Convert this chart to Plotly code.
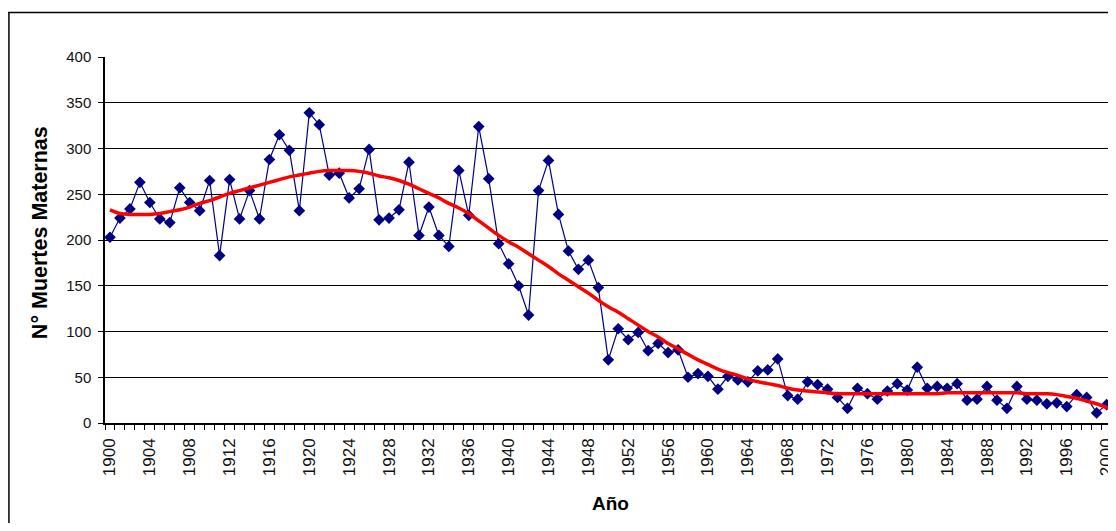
import plotly.graph_objects as go

years = list(range(1900, 2002))
deaths = [203, 224, 234, 263, 241, 223, 219, 257, 241, 232,
          265, 183, 266, 223, 254, 223, 288, 315, 298, 232,
          339, 326, 271, 273, 246, 256, 299, 222, 224, 233,
          285, 205, 236, 205, 193, 276, 227, 324, 267, 196,
          174, 150, 118, 254, 287, 228, 188, 168, 178, 148,
          69, 103, 91, 99, 79, 87, 77, 80, 50, 54,
          51, 37, 51, 47, 45, 57, 58, 70, 30, 26,
          45, 42, 37, 28, 16, 38, 32, 26, 35, 43,
          36, 61, 38, 40, 38, 43, 25, 26, 40, 25,
          16, 40, 26, 25, 21, 22, 18, 31, 28, 11,
          20, 45]
trend = [233, 229, 228, 228, 228, 229, 231, 233, 236, 240,
         243, 247, 251, 254, 257, 260, 263, 266, 269, 271,
         273, 275, 276, 276, 276, 275, 273, 270, 268, 265,
         261, 256, 251, 246, 240, 235, 229, 221, 213, 205,
         198, 192, 185, 178, 171, 163, 156, 149, 142, 134,
         127, 121, 114, 107, 100, 94, 87, 81, 75, 69,
         64, 59, 55, 52, 48, 45, 43, 41, 38, 36,
         35, 34, 33, 32, 32, 32, 32, 32, 32, 32,
         32, 32, 32, 32, 33, 33, 33, 33, 33, 33,
         33, 33, 32, 32, 32, 31, 29, 27, 24, 21,
         17, 14]
label_years = list(range(1900, 2001, 4))
y_ticks = list(range(0, 401, 50))

# page is offset by the 8px body margin; work in page pixels and convert
OFF = 8
W, H = 1116 - OFF, 531 - 2 * OFF
L, T = 105 - OFF, 57 - OFF
PLOT_BOTTOM = 423 - OFF
R = 0
B = H - PLOT_BOTTOM
pw = W - L - R
ph = H - T - B

def px(x_page):
    return (x_page - OFF - L) / pw

def py(y_page):
    return (PLOT_BOTTOM - (y_page - OFF)) / ph

x0 = 1899.5
x1 = x0 + (1116 - 105.3) / 9.983

fig = go.Figure()
fig.add_trace(go.Scatter(
    x=years, y=deaths, mode="lines+markers",
    line=dict(color="#000080", width=1.2),
    marker=dict(symbol="diamond", size=9, color="#000080"),
    showlegend=False, xaxis="x", yaxis="y"))
fig.add_trace(go.Scatter(
    x=years, y=trend, mode="lines",
    line=dict(color="#ff0000", width=3.5, shape="spline"),
    showlegend=False, xaxis="x", yaxis="y"))
fig.add_trace(go.Scatter(x=[label_years[0]], y=[0], mode="markers",
                         marker=dict(opacity=0), showlegend=False,
                         hoverinfo="skip", xaxis="x2", yaxis="y"))

fig.update_layout(
    width=W, height=H,
    margin=dict(l=L, r=R, t=T, b=B, pad=0),
    paper_bgcolor="white", plot_bgcolor="white",
    font=dict(family="Liberation Sans, Arial, sans-serif", color="black"),
    xaxis=dict(
        range=[x0, x1], tickmode="array",
        tickvals=[y + 0.5 for y in range(1899, 2002)],
        showticklabels=False, ticks="outside", ticklen=5, tickwidth=1,
        tickcolor="black", showline=True, linecolor="black", linewidth=1.5,
        showgrid=False, zeroline=False),
    xaxis2=dict(
        range=[x0, x1], overlaying="x", anchor="y", side="bottom",
        tickmode="array", tickvals=label_years,
        ticktext=[str(v) for v in label_years],
        tickangle=-90, ticks="", ticklabelstandoff=11,
        ticklabeloverflow="allow",
        tickfont=dict(size=17, color="#111111"),
        showline=False, showgrid=False, zeroline=False),
    yaxis=dict(
        range=[0, 400], tickmode="array", tickvals=y_ticks,
        ticks="outside", ticklen=5, tickcolor="black", tickwidth=1,
        ticklabelstandoff=4,
        tickfont=dict(size=15, color="#111111"),
        showline=True, linecolor="black", linewidth=1.5,
        showgrid=True, gridcolor="black", gridwidth=1.2, zeroline=False),
    annotations=[
        dict(text="N° Muertes Maternas", textangle=-90, x=px(40), y=py(233),
             xref="paper", yref="paper", xanchor="center", yanchor="middle",
             showarrow=False, font=dict(size=21.5, family="Liberation Sans, Arial",
                                        color="black", weight="bold")),
        dict(text="Año", x=px(612), y=py(503), xref="paper", yref="paper",
             xanchor="center", yanchor="middle", showarrow=False,
             font=dict(size=19, family="Liberation Sans, Arial", color="black",
                       weight="bold")),
    ],
    shapes=[
        dict(type="line", xref="paper", yref="paper", x0=px(8), x1=px(1125),
             y0=py(12.5), y1=py(12.5), line=dict(color="black", width=1.5)),
        dict(type="line", xref="paper", yref="paper", x0=px(8.75), x1=px(8.75),
             y0=py(12), y1=py(540), line=dict(color="black", width=1.5)),
    ],
)

fig.write_html("out.html")
